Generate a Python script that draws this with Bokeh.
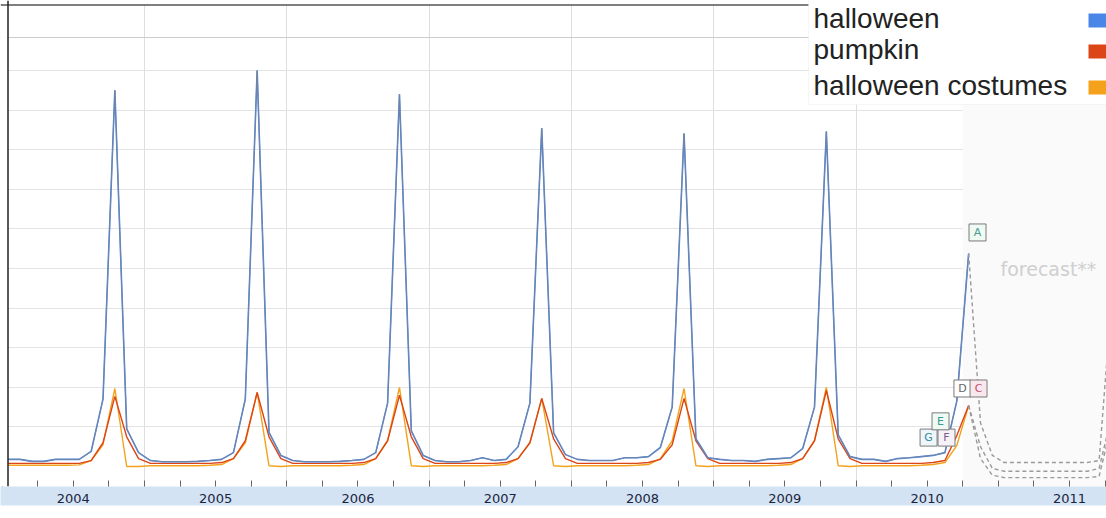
from bokeh.plotting import figure
from bokeh.models import FixedTicker, Span, BoxAnnotation, Label, ColumnDataSource
from bokeh.core.properties import value
from bokeh.embed import file_html
from bokeh.resources import INLINE

# ---------------- data ----------------
series_names = ["halloween", "pumpkin", "halloween costumes"]
series_colors = ["#4a86e8", "#dc4515", "#f4a21c"]
year_labels = ["2004", "2005", "2006", "2007", "2008", "2009", "2010", "2011"]

# monthly search index, Jan 2004 .. Oct 2010
halloween = [
    1.8, 1.8, 1.3, 1.3, 1.8, 1.8, 1.8, 3.8, 17.0, 95.0, 9.5, 3.5,
    1.5, 1.2, 1.2, 1.2, 1.3, 1.5, 1.8, 3.5, 17.0, 100.0, 8.6, 2.8,
    1.5, 1.2, 1.2, 1.2, 1.3, 1.5, 1.8, 3.5, 16.0, 94.0, 9.0, 2.8,
    1.5, 1.2, 1.2, 1.5, 2.2, 1.5, 1.8, 5.0, 16.0, 85.4, 8.5, 3.0,
    1.8, 1.5, 1.5, 1.5, 2.2, 2.2, 2.5, 4.8, 15.0, 84.1, 7.0, 2.2,
    1.8, 1.5, 1.5, 1.3, 1.8, 2.0, 2.2, 4.5, 15.0, 84.6, 8.0, 2.5,
    1.8, 1.8, 1.3, 2.0, 2.2, 2.5, 2.8, 3.5, 16.5, 53.8,
]
pumpkin = [
    0.8, 0.8, 0.8, 0.8, 0.8, 0.8, 0.8, 1.5, 6.0, 17.7, 7.5, 2.0,
    0.8, 0.8, 0.8, 0.8, 0.8, 0.8, 1.0, 2.0, 6.5, 18.7, 7.5, 2.0,
    0.8, 0.8, 0.8, 0.8, 0.8, 0.8, 1.0, 2.0, 6.5, 18.0, 7.5, 2.0,
    0.8, 0.8, 0.8, 0.8, 0.8, 0.8, 1.0, 2.0, 6.0, 17.2, 7.0, 2.0,
    0.8, 0.8, 0.8, 0.8, 0.8, 0.8, 1.0, 1.8, 5.5, 17.2, 6.5, 2.0,
    0.8, 0.8, 0.8, 0.8, 0.8, 0.8, 1.0, 2.0, 6.5, 19.2, 7.0, 2.0,
    0.8, 0.8, 0.8, 0.8, 0.8, 0.8, 1.0, 1.5, 7.8, 15.4,
]
costumes = [
    0.3, 0.3, 0.3, 0.3, 0.3, 0.3, 0.4, 1.5, 5.5, 19.7, 0.0, 0.0,
    0.2, 0.2, 0.2, 0.2, 0.2, 0.3, 0.5, 2.0, 6.0, 18.7, 0.2, 0.0,
    0.2, 0.2, 0.2, 0.2, 0.2, 0.3, 0.5, 2.0, 6.5, 20.0, 0.2, 0.0,
    0.2, 0.2, 0.2, 0.2, 0.2, 0.3, 0.5, 2.0, 6.0, 17.2, 0.2, 0.0,
    0.2, 0.2, 0.2, 0.2, 0.2, 0.3, 0.5, 2.0, 6.5, 19.7, 0.2, 0.0,
    0.2, 0.2, 0.2, 0.2, 0.2, 0.3, 0.5, 2.0, 6.5, 20.0, 0.2, 0.0,
    0.2, 0.2, 0.2, 0.2, 0.2, 0.3, 0.5, 1.0, 5.3, 15.4,
]

# forecast, Oct 2010 .. Nov 2011
halloween_fc = [53.8, 11.0, 2.8, 1.0, 1.0, 1.0, 1.0, 1.0, 1.0, 1.0, 1.0, 1.5, 40.0, 95.0]
pumpkin_fc = [15.4, 5.0, -0.5, -1.2, -1.2, -1.2, -1.2, -1.2, -1.2, -1.2, -1.2, -0.5, 12.0, 18.0]
costumes_fc = [15.4, 2.0, -2.2, -2.8, -2.8, -2.8, -2.8, -2.8, -2.8, -2.8, -2.8, -2.5, 10.0, 20.0]

# news flags
flag_letters = ["F", "G", "E", "D", "C", "A"]
flag_time = [2010.636, 2010.51, 2010.594, 2010.748, 2010.861, 2010.854]
flag_value = [7.3, 7.3, 11.4, 19.7, 19.7, 59.1]
flag_text_colors = ["#7a5a8a", "#3a8aa0", "#3a9a8a", "#666666", "#c05070", "#4a9a8a"]
flag_fill_colors = ["#f6f2f8", "#eef6fa", "#f0faf5", "#ffffff", "#f8e8ee", "#f0faf5"]

# ---------------- helpers for layout (pixel -> data) ----------------
def tx(px):
    return 2004 + (px - 1.7) / 142.3


def vy(py):
    return (466 - py) / 3.96


n = len(halloween)
months = [2004 + (i + 0.5) / 12 for i in range(n)]
fc_months = [2004 + (n - 1 + i + 0.5) / 12 for i in range(len(halloween_fc))]

W, H = 1106, 518
FRAME_BOTTOM = 486
p = figure(width=W, height=H, output_backend="svg", toolbar_location=None,
           x_range=(tx(0), tx(W)), y_range=(vy(FRAME_BOTTOM), vy(0)),
           min_border_left=0, min_border_right=0, min_border_top=0,
           min_border_bottom=H - FRAME_BOTTOM)
p.outline_line_color = None
p.background_fill_color = "white"
p.border_fill_color = "white"

# axes
p.yaxis.visible = False
p.ygrid.ticker = FixedTicker(ticks=list(range(10, 101, 10)))
p.ygrid.grid_line_color = "#e3e3e3"
year_centers = [2004.5 + i for i in range(len(year_labels))]
quarters = [2004 + q / 4 for q in range(0, 8 * 4 + 1)]
p.xaxis.ticker = FixedTicker(ticks=year_centers, minor_ticks=quarters)
p.xaxis.major_label_overrides = {c: lab for c, lab in zip(year_centers, year_labels)}
p.xaxis.major_tick_in = 0
p.xaxis.major_tick_out = 0
p.xaxis.minor_tick_in = 6
p.xaxis.minor_tick_out = 0
p.xaxis.minor_tick_line_color = "#666666"
p.xaxis.axis_line_color = None
p.xaxis.major_label_standoff = 7
p.xaxis.major_label_text_font = "DejaVu Sans"
p.xaxis.major_label_text_font_size = "13px"
p.xaxis.major_label_text_color = "#1a2540"
p.xaxis.background_fill_color = "#d3e3f4"
p.xgrid.ticker = FixedTicker(ticks=list(range(2005, 2012)))
p.xgrid.grid_line_color = "#dedede"

# forecast region shading
p.add_layout(BoxAnnotation(left=2010.75, fill_color="#fafafa", fill_alpha=1, line_color=None, level="underlay"))

# frame lines
p.add_layout(Span(location=vy(37), dimension="width", line_color="#cccccc", line_width=1))

# series
p.line(months, costumes, line_color=series_colors[2], line_width=1.4)
p.line(months, pumpkin, line_color=series_colors[1], line_width=1.4)
p.line(months, halloween, line_color=series_colors[0], line_width=1.6)
p.line(months, halloween, line_color="#7d8590", line_width=1.0, line_alpha=0.85)

# forecasts
for fc in (halloween_fc, pumpkin_fc, costumes_fc):
    p.line(fc_months, fc, line_color="#9a9a9a", line_width=1.4, line_dash="4 3")

p.add_layout(Label(x=tx(1000), y=vy(279), text="forecast**", text_font="DejaVu Sans",
                   text_font_size="19px", text_color="#cfcfcf"))

# flags
fsrc = ColumnDataSource(dict(x=flag_time, y=flag_value, t=flag_letters,
                             tc=flag_text_colors, fc=flag_fill_colors))
p.rect(x="x", y="y", width=17, height=17, width_units="screen", height_units="screen",
       fill_color="fc", line_color="#7a7a7a", line_width=1, source=fsrc)
p.text(x="x", y="y", text="t", text_color="tc", text_align="center", text_baseline="middle",
       text_font=value("DejaVu Sans"), text_font_size="11px", source=fsrc)

# white margin outside the chart border (left strip and top strip)
p.add_layout(BoxAnnotation(right=tx(7), fill_color="white", fill_alpha=1, line_color=None))
p.add_layout(BoxAnnotation(bottom=vy(4), fill_color="white", fill_alpha=1, line_color=None))
p.add_layout(Span(location=vy(4.5), dimension="width", line_color="#555555", line_width=1.5))
p.add_layout(Span(location=tx(7.5), dimension="height", line_color="#222222", line_width=1.5))

# legend (manual: swatch on the right)
p.add_layout(BoxAnnotation(left=tx(808), right=tx(1120), top=vy(-5), bottom=vy(104),
                           fill_color="white", fill_alpha=1, line_color="#e2e2e2", line_width=1))
leg_base = [28, 59, 95]
for name, col, b in zip(series_names, series_colors, leg_base):
    p.add_layout(Label(x=tx(813), y=vy(b - 10), text=name, text_font="Liberation Sans",
                       text_font_size="28px", text_color="#222222", text_baseline="alphabetic"))
    p.add_layout(BoxAnnotation(left=tx(1088), right=tx(1108), top=vy(b - 15), bottom=vy(b - 1),
                               fill_color=col, fill_alpha=1, line_color=None))

open("out.html", "w").write(file_html(p, INLINE))
